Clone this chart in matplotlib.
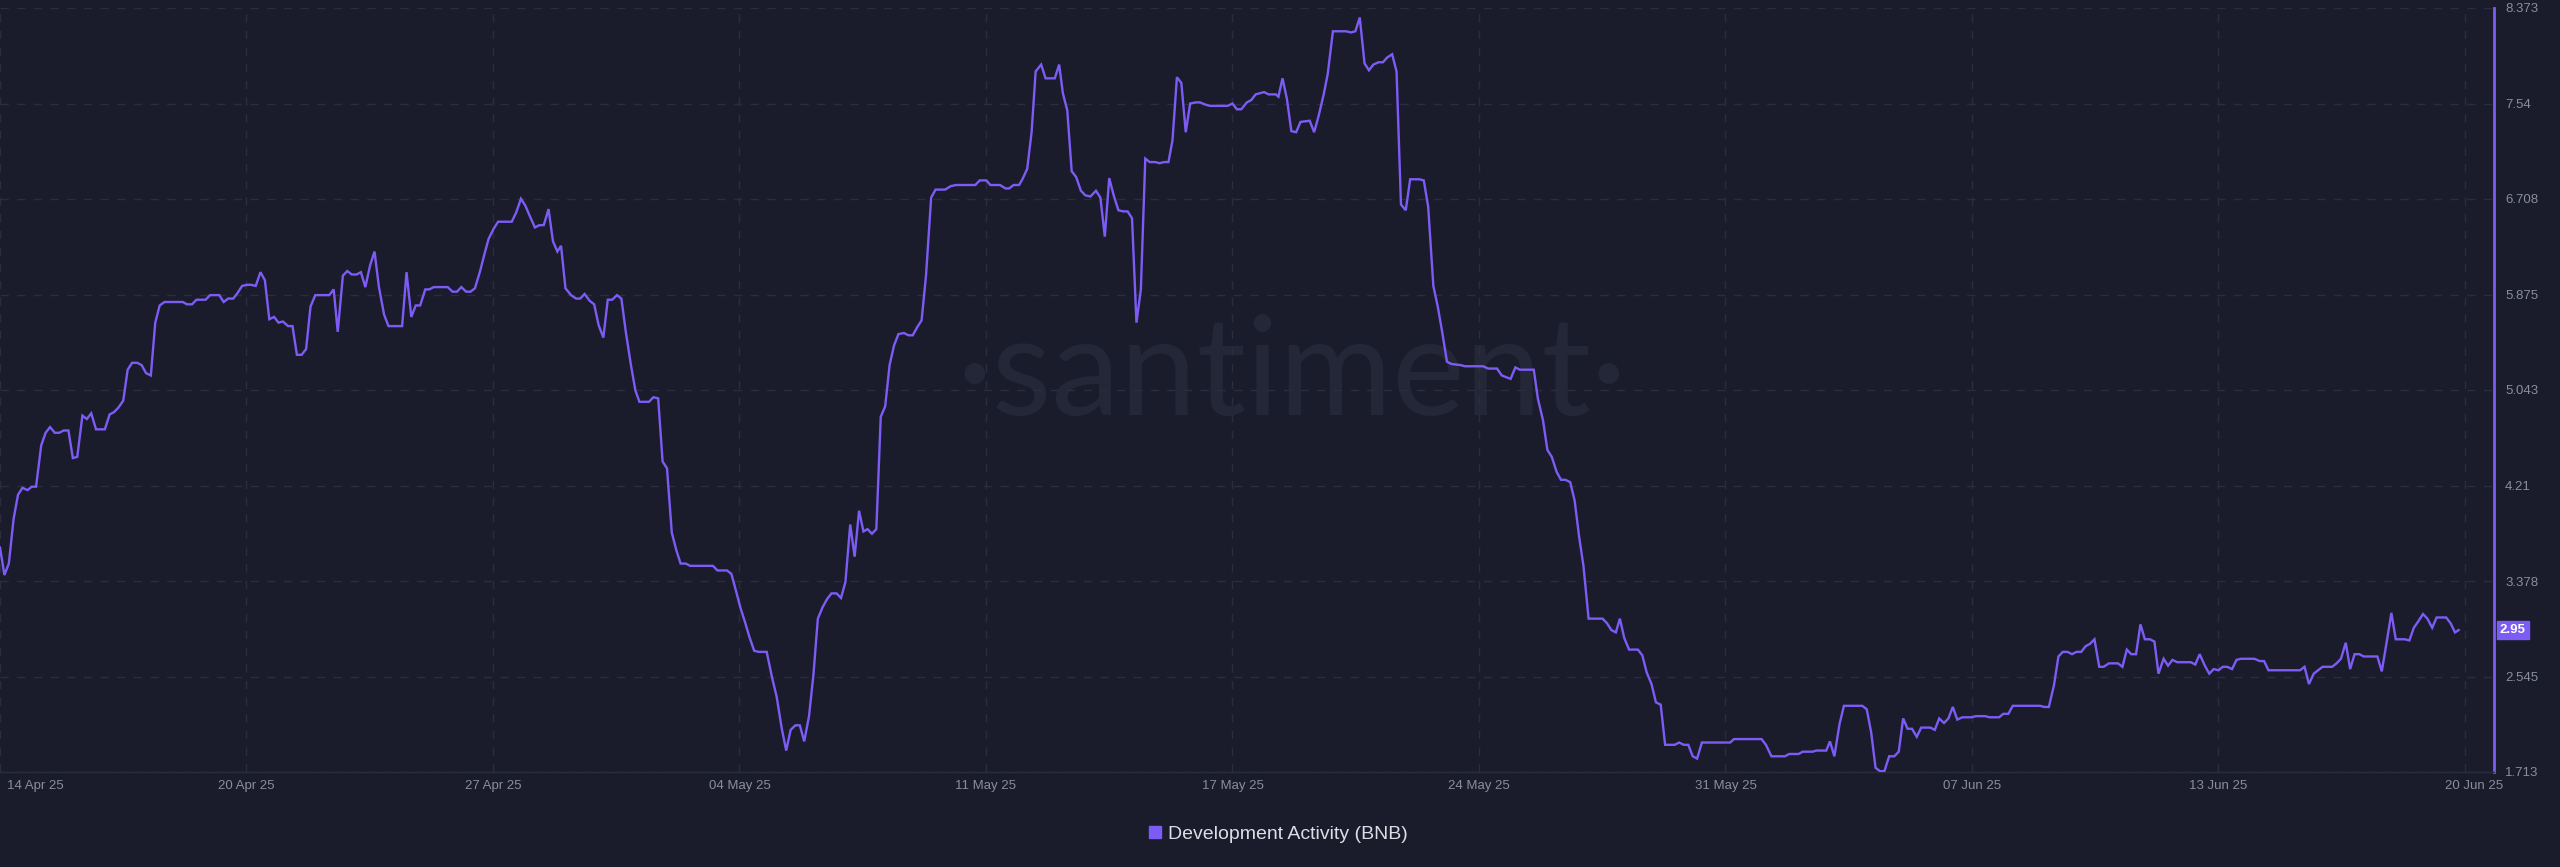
import matplotlib
matplotlib.use("Agg")
import matplotlib.pyplot as plt
import matplotlib.transforms as mtransforms
from matplotlib.lines import Line2D

# ---------------- data (days since 14 Apr 2025 00:00, value) ----------------
days = [
    0.00, 0.12, 0.24, 0.37, 0.49, 0.61, 0.75, 0.86, 0.98, 1.12, 1.24, 1.36, 1.49, 1.61, 1.73, 1.86,
    1.98, 2.10, 2.24, 2.36, 2.48, 2.61, 2.85, 2.98, 3.10, 3.22, 3.35, 3.47, 3.59, 3.73, 3.85, 3.97,
    4.10, 4.22, 4.34, 4.47, 4.97, 5.08, 5.22, 5.34, 5.59, 5.71, 5.96, 6.08, 6.20, 6.34, 6.46, 6.58,
    6.71, 6.83, 6.95, 7.08, 7.20, 7.32, 7.45, 7.57, 7.69, 7.83, 7.95, 8.07, 8.20, 8.32, 8.44, 8.57,
    8.95, 9.07, 9.18, 9.32, 9.44, 9.56, 9.69, 9.81, 9.93, 10.06, 10.18, 10.30, 10.44, 10.56, 10.93, 11.05,
    11.18, 11.30, 11.42, 11.56, 11.67, 11.79, 12.17, 12.30, 12.42, 12.54, 12.67, 12.79, 12.91, 13.05, 13.17, 13.28,
    13.42, 13.54, 13.91, 14.03, 14.16, 14.28, 14.40, 14.54, 14.66, 14.78, 14.91, 15.03, 15.15, 15.25, 15.37, 15.52,
    15.66, 15.77, 15.89, 16.03, 16.15, 16.27, 16.40, 16.52, 16.64, 16.77, 16.89, 17.01, 17.15, 17.27, 17.38, 17.64,
    17.76, 17.89, 18.01, 18.13, 18.26, 18.38, 18.50, 18.64, 18.76, 19.38, 19.50, 19.76, 19.88, 19.99, 20.13, 20.25,
    20.37, 20.50, 20.62, 20.84, 20.99, 21.11, 21.25, 21.37, 21.49, 21.62, 21.74, 21.86, 21.99, 22.11, 22.23, 22.36,
    22.48, 22.60, 22.74, 22.86, 22.98, 23.11, 23.23, 23.35, 23.47, 23.58, 23.70, 23.82, 23.94, 24.06, 24.18, 24.30,
    24.42, 24.57, 24.69, 24.81, 24.93, 25.05, 25.17, 25.31, 25.43, 25.69, 25.84, 25.99, 26.51, 26.63, 26.81, 26.92,
    27.18, 27.33, 27.43, 27.55, 27.70, 27.79, 27.92, 28.04, 28.15, 28.30, 28.42, 28.67, 28.79, 28.89, 29.01, 29.13,
    29.25, 29.38, 29.50, 29.64, 29.79, 29.91, 30.03, 30.15, 30.28, 30.40, 30.53, 30.65, 30.77, 30.89, 31.01, 31.13,
    31.25, 31.40, 31.52, 31.64, 31.76, 31.87, 31.99, 32.11, 32.23, 32.35, 32.50, 32.62, 32.77, 32.89, 33.37, 33.50,
    33.62, 33.74, 33.89, 34.01, 34.13, 34.36, 34.48, 34.68, 34.75, 34.86, 34.98, 35.10, 35.23, 35.35, 35.60, 35.72,
    35.84, 35.98, 36.09, 36.23, 36.59, 36.72, 36.84, 36.96, 37.09, 37.21, 37.33, 37.47, 37.59, 37.70, 37.84, 37.96,
    38.08, 38.21, 38.33, 38.58, 38.70, 38.82, 38.96, 39.08, 39.20, 39.33, 39.45, 39.70, 39.82, 40.31, 40.45, 40.69,
    40.82, 41.06, 41.19, 41.31, 41.69, 41.80, 41.94, 42.06, 42.18, 42.31, 42.43, 42.55, 42.68, 42.80, 42.92, 43.04,
    43.18, 43.56, 43.68, 43.80, 43.92, 44.03, 44.15, 44.28, 44.52, 44.64, 44.76, 44.89, 45.01, 45.14, 45.26, 45.52,
    45.64, 45.77, 45.89, 46.01, 46.13, 46.26, 47.03, 47.13, 47.88, 48.00, 48.15, 48.52, 48.63, 48.89, 49.00, 49.27,
    49.37, 49.64, 49.74, 49.86, 50.00, 50.12, 50.62, 50.74, 50.86, 50.98, 51.10, 51.22, 51.35, 51.49, 51.61, 51.73,
    51.85, 51.97, 52.10, 52.22, 52.47, 52.59, 52.71, 52.84, 52.96, 53.08, 53.20, 53.34, 53.59, 53.71, 53.96, 54.08,
    54.34, 54.45, 54.59, 54.71, 55.45, 55.57, 55.69, 55.83, 55.95, 56.07, 56.20, 56.32, 56.44, 56.57, 56.69, 56.81,
    56.93, 57.06, 57.18, 57.32, 57.57, 57.69, 57.81, 57.93, 58.06, 58.18, 58.30, 58.44, 58.56, 58.67, 58.81, 58.93,
    59.05, 59.18, 59.55, 59.67, 59.79, 59.93, 60.05, 60.17, 60.30, 60.42, 60.54, 60.67, 60.79, 60.91, 61.28, 61.42,
    61.54, 61.66, 62.52, 62.64, 62.76, 62.89, 63.01, 63.13, 63.39, 63.51, 63.63, 63.76, 63.88, 64.00, 64.13, 64.25,
    64.62, 64.74, 64.88, 65.00, 65.12, 65.37, 65.49, 65.61, 65.74, 65.86, 65.98, 66.11, 66.23, 66.49, 66.61, 66.73,
    66.83,
]
dev_activity = [
    3.67, 3.43, 3.53, 3.92, 4.13, 4.19, 4.17, 4.20, 4.20, 4.56, 4.67, 4.72, 4.67, 4.67, 4.69, 4.69,
    4.45, 4.46, 4.82, 4.79, 4.84, 4.70, 4.70, 4.83, 4.85, 4.89, 4.95, 5.22, 5.28, 5.28, 5.26, 5.19,
    5.17, 5.63, 5.78, 5.81, 5.81, 5.79, 5.79, 5.83, 5.83, 5.87, 5.87, 5.81, 5.84, 5.84, 5.89, 5.95,
    5.96, 5.96, 5.95, 6.07, 6.00, 5.66, 5.68, 5.63, 5.64, 5.60, 5.60, 5.35, 5.35, 5.40, 5.77, 5.87,
    5.87, 5.92, 5.55, 6.04, 6.08, 6.05, 6.05, 6.07, 5.94, 6.13, 6.25, 5.94, 5.70, 5.60, 5.60, 6.07,
    5.68, 5.78, 5.78, 5.92, 5.92, 5.94, 5.94, 5.90, 5.90, 5.94, 5.90, 5.90, 5.93, 6.08, 6.23, 6.36,
    6.45, 6.51, 6.51, 6.59, 6.71, 6.65, 6.56, 6.46, 6.48, 6.48, 6.62, 6.34, 6.25, 6.30, 5.93, 5.87,
    5.84, 5.84, 5.88, 5.82, 5.79, 5.61, 5.50, 5.83, 5.83, 5.87, 5.84, 5.55, 5.26, 5.04, 4.94, 4.94,
    4.98, 4.97, 4.42, 4.36, 3.80, 3.65, 3.53, 3.53, 3.51, 3.51, 3.47, 3.47, 3.44, 3.31, 3.14, 3.02,
    2.89, 2.77, 2.76, 2.76, 2.53, 2.37, 2.09, 1.90, 2.08, 2.12, 2.12, 1.98, 2.20, 2.56, 3.05, 3.15,
    3.22, 3.27, 3.27, 3.23, 3.37, 3.87, 3.59, 3.99, 3.81, 3.83, 3.79, 3.83, 4.81, 4.90, 5.26, 5.43,
    5.53, 5.54, 5.52, 5.52, 5.59, 5.65, 6.04, 6.72, 6.79, 6.79, 6.82, 6.83, 6.83, 6.87, 6.87, 6.83,
    6.83, 6.80, 6.80, 6.83, 6.83, 6.88, 6.97, 7.29, 7.82, 7.88, 7.76, 7.76, 7.88, 7.63, 7.48, 6.95,
    6.90, 6.78, 6.74, 6.73, 6.78, 6.72, 6.38, 6.89, 6.73, 6.61, 6.60, 6.60, 6.54, 5.63, 5.92, 7.06,
    7.03, 7.03, 7.02, 7.03, 7.03, 7.22, 7.77, 7.72, 7.29, 7.54, 7.55, 7.55, 7.53, 7.52, 7.52, 7.54,
    7.49, 7.49, 7.55, 7.57, 7.62, 7.64, 7.62, 7.62, 7.60, 7.76, 7.58, 7.30, 7.29, 7.38, 7.39, 7.29,
    7.43, 7.62, 7.80, 8.17, 8.17, 8.16, 8.17, 8.29, 7.89, 7.83, 7.88, 7.90, 7.90, 7.94, 7.97, 7.82,
    6.66, 6.61, 6.88, 6.88, 6.87, 6.64, 5.95, 5.77, 5.55, 5.29, 5.27, 5.26, 5.25, 5.25, 5.23, 5.23,
    5.17, 5.14, 5.24, 5.22, 5.22, 4.97, 4.78, 4.52, 4.46, 4.33, 4.26, 4.26, 4.24, 4.08, 3.77, 3.51,
    3.05, 3.05, 3.01, 2.95, 2.93, 3.05, 2.88, 2.78, 2.78, 2.73, 2.58, 2.48, 2.32, 2.30, 1.95, 1.95,
    1.97, 1.95, 1.95, 1.85, 1.83, 1.97, 1.97, 2.00, 2.00, 1.95, 1.85, 1.85, 1.87, 1.87, 1.89, 1.89,
    1.90, 1.90, 1.98, 1.85, 2.13, 2.29, 2.29, 2.26, 2.06, 1.75, 1.72, 1.72, 1.85, 1.85, 1.89, 2.18,
    2.09, 2.09, 2.02, 2.10, 2.10, 2.08, 2.18, 2.14, 2.18, 2.28, 2.17, 2.19, 2.19, 2.20, 2.20, 2.19,
    2.19, 2.22, 2.22, 2.29, 2.29, 2.28, 2.28, 2.47, 2.72, 2.76, 2.76, 2.74, 2.76, 2.76, 2.81, 2.83,
    2.87, 2.63, 2.63, 2.66, 2.66, 2.63, 2.78, 2.74, 2.74, 3.00, 2.87, 2.87, 2.85, 2.57, 2.70, 2.64,
    2.69, 2.67, 2.67, 2.65, 2.74, 2.64, 2.57, 2.61, 2.60, 2.63, 2.63, 2.61, 2.69, 2.70, 2.70, 2.68,
    2.68, 2.60, 2.60, 2.63, 2.48, 2.57, 2.60, 2.63, 2.63, 2.66, 2.70, 2.84, 2.61, 2.74, 2.74, 2.72,
    2.72, 2.59, 2.86, 3.10, 2.87, 2.87, 2.86, 2.97, 3.03, 3.09, 3.05, 2.97, 3.06, 3.06, 3.01, 2.93,
    2.95,
]

y_ticks = [1.713, 2.545, 3.378, 4.21, 5.043, 5.875, 6.708, 7.54, 8.373]
y_tick_labels = ["1.713", "2.545", "3.378", "4.21", "5.043", "5.875", "6.708", "7.54", "8.373"]
x_tick_labels = ["14 Apr 25", "20 Apr 25", "27 Apr 25", "04 May 25", "11 May 25", "17 May 25",
                 "24 May 25", "31 May 25", "07 Jun 25", "13 Jun 25", "20 Jun 25"]
x_tick_step = 6.7          # days between labelled grid lines
x_max = 67.79              # right edge of the plotting area (days)
last_value_label = "2.95"
series_name = "Development Activity (BNB)"

# ---------------- style ----------------
BG = "#1a1c2b"
LINE = "#7d5cf6"
GRID = "#2a2d3e"
TICK = "#8a8d9c"
LEGEND_TXT = "#dcdde6"
WATERMARK = "#242738"

plt.rcParams["font.family"] = ["Liberation Sans", "DejaVu Sans"]

fig = plt.figure(figsize=(25.6, 8.67), dpi=100, facecolor=BG)
ax = fig.add_axes([0.0, 1 - 772 / 867, 2494 / 2560, (772 - 8) / 867])
ax.set_facecolor(BG)

# watermark
ax.text(0.518, 0.518, "·santiment·", transform=ax.transAxes, ha="center", va="center",
        fontsize=99, color=WATERMARK, family=["Lato", "DejaVu Sans"], zorder=0)

ax.plot(days, dev_activity, color=LINE, lw=1.7, solid_joinstyle="miter", zorder=3)

ax.set_xlim(0, x_max)
ax.set_ylim(y_ticks[0], y_ticks[-1])

# grid
xt = [i * x_tick_step for i in range(len(x_tick_labels))]
ax.set_xticks(xt)
ax.set_xticklabels(x_tick_labels)
ax.set_yticks(y_ticks)
ax.set_yticklabels(y_tick_labels)
ax.grid(True, color=GRID, lw=1.0, ls=(0, (6, 6)))
ax.set_axisbelow(True)

ax.yaxis.tick_right()
ax.tick_params(axis="y", length=0, pad=8, labelsize=9.5, labelcolor=TICK)
ax.tick_params(axis="x", length=0, pad=6, labelsize=9.5, labelcolor=TICK)
for lab in ax.get_yticklabels():
    lab.set_horizontalalignment("left")

# first and last x labels nudged like the reference
xlabs = ax.get_xticklabels()
xlabs[0].set_horizontalalignment("left")
xlabs[0].set_transform(xlabs[0].get_transform() +
                       mtransforms.ScaledTranslation(7 / 100, 0, fig.dpi_scale_trans))
xlabs[-1].set_transform(xlabs[-1].get_transform() +
                        mtransforms.ScaledTranslation(9 / 100, 0, fig.dpi_scale_trans))

for s in ["top", "left"]:
    ax.spines[s].set_visible(False)
ax.spines["bottom"].set_color(GRID)
ax.spines["bottom"].set_linewidth(1.0)
ax.spines["right"].set_color(LINE)
ax.spines["right"].set_linewidth(2.0)

# last value tag
ax.annotate(last_value_label, xy=(1.0, dev_activity[-1]), xycoords=("axes fraction", "data"),
            xytext=(6, 0), textcoords="offset pixels", ha="left", va="center",
            fontsize=9.5, color="white", fontweight="bold",
            bbox=dict(boxstyle="square,pad=0.2", fc=LINE, ec=LINE))

# legend
handle = Line2D([], [], marker="s", linestyle="none", markersize=9, color=LINE)
fig.legend([handle], [series_name], loc="center", bbox_to_anchor=(0.499, 1 - 834 / 867),
           frameon=False, fontsize=14, labelcolor=LEGEND_TXT, handletextpad=0.3,
           handlelength=0.8)

fig.savefig("out.png", dpi=100, facecolor=BG)
